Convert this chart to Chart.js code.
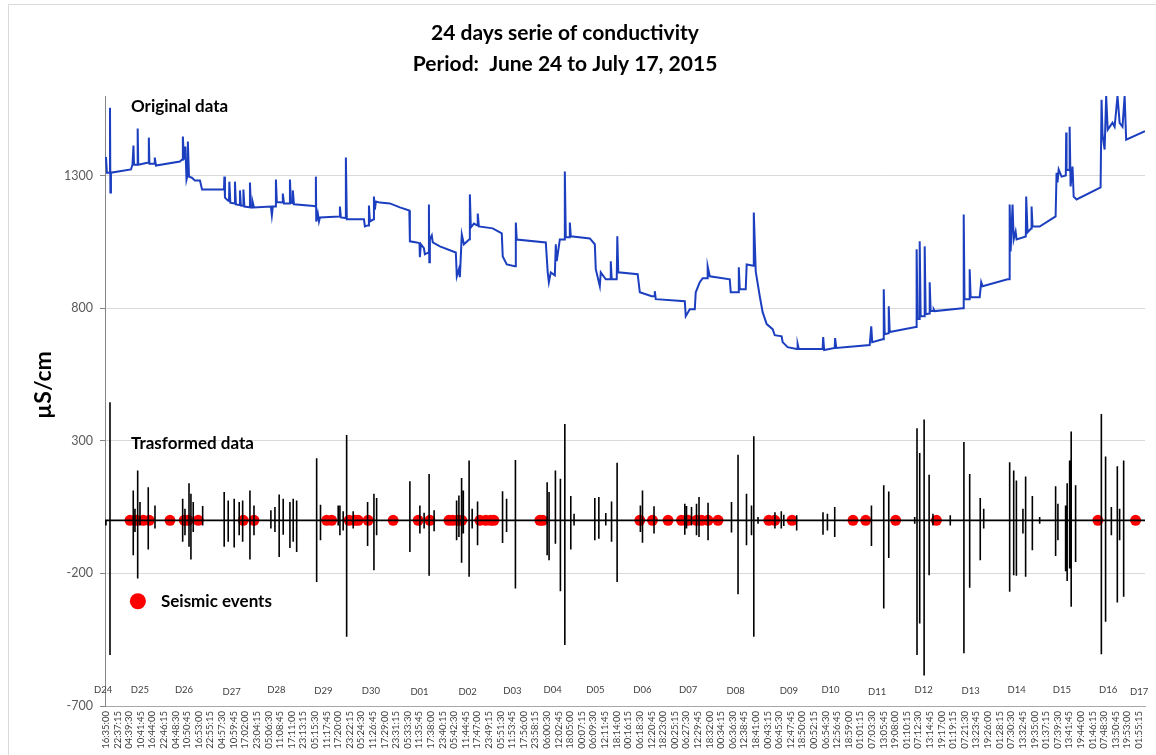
<!DOCTYPE html>
<html>
<head>
<meta charset="utf-8">
<script src="https://cdn.jsdelivr.net/npm/chart.js@4.4.1/dist/chart.umd.min.js"></script>
<style>
  html, body { margin: 0; padding: 0; background: #ffffff; }
  canvas { display: block; }
</style>
</head>
<body>
<canvas id="chart" width="1156" height="755"></canvas>
<script>
// Time axis: hours elapsed since 24 June 2015, 16:35:00 (15 s sampling, one label every 6 h 02 min 15 s)
const labelStepHours = 6.0375;
const timeLabels = [
  '16:35:00','22:37:15','04:39:30','10:41:45','16:44:00','22:46:15','04:48:30','10:50:45','16:53:00','22:55:15',
  '04:57:30','10:59:45','17:02:00','23:04:15','05:06:30','11:08:45','17:11:00','23:13:15','05:15:30','11:17:45',
  '17:20:00','23:22:15','05:24:30','11:26:45','17:29:00','23:31:15','05:33:30','11:35:45','17:38:00','23:40:15',
  '05:42:30','11:44:45','17:47:00','23:49:15','05:51:30','11:53:45','17:56:00','23:58:15','06:00:30','12:02:45',
  '18:05:00','00:07:15','06:09:30','12:11:45','18:14:00','00:16:15','06:18:30','12:20:45','18:23:00','00:25:15',
  '06:27:30','12:29:45','18:32:00','00:34:15','06:36:30','12:38:45','18:41:00','00:43:15','06:45:30','12:47:45',
  '18:50:00','00:52:15','06:54:30','12:56:45','18:59:00','01:01:15','07:03:30','13:05:45','19:08:00','01:10:15',
  '07:12:30','13:14:45','19:17:00','01:19:15','07:21:30','13:23:45','19:26:00','01:28:15','07:30:30','13:32:45',
  '19:35:00','01:37:15','07:39:30','13:41:45','19:44:00','01:46:15','07:48:30','13:50:45','19:53:00','01:55:15'
];

// Day markers written under the plot
const dayNames = ['D24','D25','D26','D27','D28','D29','D30','D01','D02','D03','D04','D05',
                  'D06','D07','D08','D09','D10','D11','D12','D13','D14','D15','D16','D17'];
const dayHours = [-1.5, 17.6, 40.6, 65.4, 88.7, 113.1, 137.8, 163.1, 188.1, 211.4, 232.4, 254.6,
                  279.0, 302.9, 327.6, 355.2, 376.9, 401.2, 425.4, 449.8, 473.7, 497.3, 521.3, 537.5];
const dayRowValue = [-641, -641, -641, -648, -641, -643, -645, -646, -648, -643, -638, -640,
                     -638, -638, -643, -645, -640, -646, -640, -645, -640, -640, -640, -646];

// Original conductivity series (µS/cm)
const originalHours = [
  0, 0.5, 1.9, 2.1, 2.3, 2.6, 13, 13.8, 14.3, 14.6, 16.3, 16.5, 16.8, 22.1, 22.3, 22.6, 25.2, 25.4, 26,
  38.5, 39.5, 39.8, 40, 40.6, 41.1, 41.3, 41.9, 42.4, 42.6, 43.2, 44.7, 46.3, 48.9, 50, 60.8,
  61.4, 61.6, 61.9, 63.4, 64.0, 64.2, 64.7, 66.9, 67.1, 67.6, 69.5, 69.7, 70.2, 71.3, 71.5, 72,
  74.7, 74.9, 75.4, 76.2, 76.4, 77, 85.8, 86.3, 86.8, 88.2, 88.4, 88.9, 91.8, 92, 92.6, 95.5, 95.7, 96.2,
  97, 97.2, 97.8, 108.2, 109.0, 109.2, 109.4, 110.2, 110.8, 111.3, 121.5, 121.7, 122.2, 124.6, 124.8, 125.3,
  134.2, 134.7, 136.2, 136.6, 136.8, 137.3, 139.2, 139.4, 139.9, 140.4, 142.5, 147.7, 152.9,
  157.8, 158.1, 161.7, 163.1, 163.3, 163.8, 165.4, 165.9, 167.8, 168, 168.2, 168.5, 169.5, 170, 173.7,
  182, 182.5, 183.6, 184.1, 185.1, 186.2, 189.1, 189.3, 189.8, 191.4, 193.2, 193.4, 194, 201.2, 205.9,
  206.4, 208.5, 212.7, 213.0, 213.2, 213.7, 228.8, 229.8, 230.4, 231.4, 233.5, 234, 234.5, 236.1,
  238.5, 238.7, 239.2, 241.1, 241.3, 241.8, 251.7, 254.3, 254.8, 256.9, 257.4, 260, 262.4, 262.6, 263.1,
  265.7, 266, 266.5, 276.6, 277.7, 283.9, 285.3, 285.5, 286, 301.1, 301.6, 303.7, 306.3, 306.8, 308.9,
  310.4, 312.8, 313.0, 314.1, 324.5, 325, 329, 329.2, 329.7, 332.8, 333.3, 336.8, 337, 338, 340.1,
  341.6, 343.7, 346.8, 347.9, 351.5, 352, 354.6, 359.3, 359.6, 359.8, 360.4, 372.8, 373.1, 373.6,
  379.1, 379.3, 379.9, 397.3, 398.1, 398.6, 404, 404.4, 404.6, 405.1, 407, 407.2, 407.7, 421.2, 421.5,
  421.7, 422.2, 423.1, 423.3, 423.8, 425.7, 425.9, 426.4, 428.3, 428.5, 429, 430.4, 430.6, 431.1,
  445.6, 446.0, 446.2, 446.6, 449.1, 449.3, 449.8, 454.5, 455.3, 456, 469, 469.9, 470.1, 470.6, 471.6,
  472.2, 473.2, 473.7, 478.5, 478.7, 479.4, 481.3, 481.5, 482, 485.7, 494, 494.5, 495, 495.6, 497.1,
  499.3, 499.5, 499.7, 501.1, 501.3, 501.8, 502.8, 503.4, 504.9, 517.4, 517.9, 518.4, 519.5, 520.3,
  521.1, 523.6, 524.7, 526.2, 527.3, 528.8, 529.9, 530.7, 540.5
];
const originalValues = [
  1370, 1311, 1311, 1556, 1236, 1311, 1323, 1341, 1413, 1341, 1341, 1477, 1341, 1349, 1443, 1345, 1345, 1368, 1338,
  1353, 1360, 1360, 1447, 1360, 1360, 1409, 1285, 1300, 1428, 1296, 1292, 1281, 1281, 1247, 1247,
  1247, 1296, 1217, 1206, 1204, 1277, 1198, 1195, 1277, 1191, 1189, 1244, 1187, 1186, 1247, 1183,
  1181, 1274, 1180, 1180, 1198, 1180, 1183, 1150, 1183, 1183, 1285, 1200, 1198, 1232, 1195, 1195, 1285, 1198,
  1196, 1244, 1192, 1185, 1183, 1296, 1127, 1157, 1127, 1142, 1146, 1183, 1142, 1140, 1368, 1135,
  1135, 1108, 1112, 1112, 1187, 1127, 1135, 1221, 1172, 1202, 1198, 1195, 1180,
  1168, 1052, 1048, 1045, 992, 1041, 1026, 1003, 1010, 1191, 973, 1059, 1074, 1048, 1033,
  1010, 920, 947, 917, 1078, 1041, 1060, 1229, 1104, 1119, 1112, 1157, 1108, 1101, 1082,
  995, 965, 958, 958, 1123, 1059, 1048, 935, 898, 935, 924, 1041, 977, 1059,
  1059, 1315, 1067, 1067, 1123, 1071, 1063, 1041, 947, 883, 935, 909, 909, 977, 909,
  909, 1071, 935, 928, 860, 845, 845, 864, 834, 826, 770, 796, 796, 860, 898,
  913, 913, 958, 920, 909, 860, 860, 954, 871, 871, 965, 960, 1161, 939, 845,
  785, 740, 721, 698, 694, 672, 653, 646, 646, 665, 646, 646, 691, 642,
  650, 687, 650, 661, 732, 672, 683, 683, 871, 702, 705, 807, 710, 729, 729,
  1022, 759, 759, 1052, 770, 770, 1033, 777, 780, 898, 789, 789, 796, 789,
  800, 800, 1153, 834, 834, 947, 841, 841, 898, 883, 909, 909, 1191, 1014, 1191,
  1059, 1089, 1059, 1070, 1221, 1086, 1100, 1183, 1108, 1108, 1146, 1311, 1274, 1323, 1296,
  1300, 1462, 1323, 1320, 1484, 1259, 1334, 1221, 1210, 1255, 1586, 1454, 1398, 1600,
  1473, 1499, 1484, 1600, 1499, 1484, 1600, 1435, 1467
];

// Transformed series: spikes around zero (µS/cm)
const spikeHours = [
  0, 2.1, 14.2, 15.1, 16.5, 17.7, 22, 25.5, 39.9, 41.1, 43.2, 44.2, 45.4, 50.3, 61.5, 63.6, 66.7, 69.3,
  71.1, 74.9, 77, 85.8, 87.9, 90.1, 92.2, 95.7, 97.4, 99.2, 109.6, 111.6, 120.8, 121.7, 123.4, 125.2,
  128.6, 136.1, 139.4, 140.8, 158.1, 163.3, 165.5, 168.1, 170.7, 182.4, 183.6, 185, 185.9, 188.9, 190.5,
  193.3, 206.3, 208.4, 213, 229.5, 230.5, 233.8, 236.4, 238.7, 241.8, 243.5, 254.3, 256.4, 260, 263,
  265.9, 278, 279.1, 285.1, 301.1, 302, 304.6, 307.2, 308.5, 313.2, 325.4, 328.8, 333.2, 335.8, 337,
  339.2, 348, 351.3, 352.6, 359.3, 373, 375.3, 379.1, 398.2, 404.6, 407.2, 420.7, 421.9, 423.3, 425.6,
  428.2, 430.2, 439.2, 446.3, 449.3, 454.8, 456.6, 470.1, 472.2, 473.6, 477, 478.4, 481.9, 485.7, 494,
  495.2, 499.2, 500, 501.3, 502.1, 504.4, 517.8, 520, 523, 526.1, 527.3, 529.4
];
const spikeHigh = [
  0, 445, 113, 44, 188, 69, 125, 56, 81, 44, 140, 100, 69, 54, 107, 75, 81, 69,
  75, 113, 56, 38, 50, 97, 81, 69, 81, 75, 234, 59, 56, 56, 34, 322,
  34, 69, 100, 84, 147, 56, 29, 175, 38, 75, 94, 160, 113, 226, 44,
  71, 110, 81, 228, 144, 107, 188, 157, 363, 92, 25, 84, 88, 28, 71,
  217, 56, 113, 53, 63, 54, 50, 63, 88, 66, 69, 247, 100, 56, 317,
  13, 31, 34, 21, 19, 31, 25, 50, 56, 132, 109, 13, 347, 254, 380,
  172, 25, 19, 295, 175, 84, 44, 219, 188, 150, 44, 165, 92, 13, 129,
  63, 56, 140, 226, 335, 132, 401, 241, 50, 204, 44, 226
];
const spikeLow = [
  -19, -508, -132, -44, -219, -19, -110, -31, -81, -56, -100, -148, -44, -19, -100, -81, -102, -56,
  -81, -148, -56, -31, -44, -138, -54, -104, -81, -119, -232, -75, -19, -56, -38, -439,
  -31, -97, -188, -56, -119, -50, -31, -209, -41, -75, -63, -160, -50, -213, -31,
  -94, -85, -44, -257, -132, -150, -88, -267, -470, -110, -19, -75, -69, -19, -81,
  -232, -44, -84, -50, -54, -31, -19, -56, -63, -75, -46, -279, -94, -56, -439,
  -13, -31, -31, -21, -38, -54, -38, -63, -97, -332, -142, -13, -508, -389, -585,
  -207, -19, -19, -501, -254, -150, -31, -269, -207, -209, -50, -213, -113, -13, -134,
  -75, -192, -229, -182, -326, -157, -505, -382, -56, -310, -75, -288
];

// Seismic events, plotted on the zero line of the transformed series
const seismicHours = [
  12.5, 16.0, 19.4, 22.5, 33.3, 40.7, 42.8, 48, 71.4, 77, 114.8, 117.4, 126.5, 129.5, 131.2, 136.4, 149.4,
  162.4, 168.5, 178.4, 180.4, 183, 185.1, 194.5, 197.6, 200.2, 201.8, 225.7, 227.2, 277.7, 284.3, 292.4,
  299.4, 302.8, 307.2, 309.8, 313.2, 318.4, 344.8, 347.9, 356.9, 388.6, 395.2, 410.8, 432, 516, 535.6
];

const yTicks = [-700, -200, 300, 800, 1300];

const originalPoints = originalHours.map((h, i) => ({ x: h, y: originalValues[i] }));

const transformedPoints = [{ x: -0.5, y: 0 }];
spikeHours.forEach((h, i) => {
  transformedPoints.push({ x: h, y: 0 }, { x: h, y: spikeHigh[i] }, { x: h, y: spikeLow[i] }, { x: h, y: 0 });
});
transformedPoints.push({ x: 540.5, y: 0 });

const seismicPoints = seismicHours.map(h => ({ x: h, y: 0 }));

const FONT = 'Lato, "Open Sans", sans-serif';

// Titles, in-plot captions, legend and day markers
const captions = {
  id: 'captions',
  beforeDraw(chart) {
    const ctx = chart.ctx;
    ctx.save();
    ctx.strokeStyle = '#d9d9d9';
    ctx.lineWidth = 1;
    ctx.strokeRect(8.5, 4.5, 1200, 800);
    ctx.restore();
  },
  afterDraw(chart) {
    const ctx = chart.ctx;
    const xs = chart.scales.x, ys = chart.scales.y;
    ctx.save();
    ctx.fillStyle = '#000000';
    ctx.textAlign = 'center';
    ctx.textBaseline = 'middle';
    ctx.font = 'bold 21px ' + FONT;
    ctx.fillText('24 days serie of conductivity', 565, 33);
    ctx.fillText('Period:  June 24 to July 17, 2015', 565, 64);

    ctx.textAlign = 'left';
    ctx.font = 'bold 17px ' + FONT;
    ctx.fillText('Original data', xs.getPixelForValue(13), ys.getPixelForValue(1562));
    ctx.fillText('Trasformed data', xs.getPixelForValue(13), ys.getPixelForValue(289));
    ctx.fillText('Seismic events', xs.getPixelForValue(28.6), ys.getPixelForValue(-305));

    ctx.fillStyle = '#ff0000';
    ctx.beginPath();
    ctx.arc(xs.getPixelForValue(16.6), ys.getPixelForValue(-305), 8, 0, Math.PI * 2);
    ctx.fill();

    ctx.fillStyle = '#000000';
    ctx.save();
    ctx.translate(44, 385);
    ctx.rotate(-Math.PI / 2);
    ctx.textAlign = 'center';
    ctx.font = 'bold 23px ' + FONT;
    ctx.fillText('µS/cm', 0, 0);
    ctx.restore();

    ctx.fillStyle = '#404040';
    ctx.textAlign = 'center';
    ctx.font = '9.5px ' + FONT;
    dayNames.forEach((d, i) => {
      ctx.fillText(d, xs.getPixelForValue(dayHours[i]), ys.getPixelForValue(dayRowValue[i]));
    });
    ctx.restore();
  }
};

new Chart(document.getElementById('chart'), {
  type: 'line',
  data: {
    datasets: [
      {
        label: 'Transformed data',
        data: transformedPoints,
        borderColor: '#000000',
        borderWidth: 1.6,
        pointRadius: 0,
        tension: 0,
        order: 0
      },
      {
        label: 'Seismic events',
        data: seismicPoints,
        showLine: false,
        pointRadius: 5.5,
        pointBackgroundColor: '#ff0000',
        pointBorderWidth: 0,
        borderColor: '#ff0000',
        order: 1
      },
      {
        label: 'Original data',
        data: originalPoints,
        borderColor: '#1c3fc0',
        borderWidth: 2,
        pointRadius: 0,
        tension: 0,
        order: 2
      }
    ]
  },
  options: {
    responsive: false,
    animation: false,
    layout: { padding: { top: 96, right: 11, bottom: 0, left: 0 } },
    plugins: {
      legend: { display: false },
      tooltip: { enabled: false },
      title: { display: false }
    },
    scales: {
      x: {
        type: 'linear',
        min: -0.5,
        max: 540.5,
        grid: { display: false, drawTicks: false },
        border: { display: true, color: '#a6a6a6', width: 1 },
        afterBuildTicks(scale) {
          scale.ticks = timeLabels.map((_, i) => ({ value: i * labelStepHours }));
        },
        afterFit(scale) { scale.height = 49; },
        ticks: {
          autoSkip: false,
          maxRotation: 90,
          minRotation: 90,
          padding: 5,
          color: '#404040',
          font: { family: FONT, size: 9.5 },
          callback: (value, index) => timeLabels[index]
        }
      },
      y: {
        min: -700,
        max: 1600,
        afterBuildTicks(scale) {
          scale.ticks = yTicks.map(v => ({ value: v }));
        },
        afterFit(scale) { scale.width = 105; },
        grid: { color: '#d9d9d9', tickColor: '#868686', tickLength: 5, lineWidth: 1 },
        border: { display: true, color: '#868686', width: 1 },
        ticks: {
          padding: 7,
          color: '#595959',
          font: { family: FONT, size: 12.5 },
          callback: (value) => String(value)
        }
      }
    }
  },
  plugins: [captions]
});
</script>
</body>
</html>
